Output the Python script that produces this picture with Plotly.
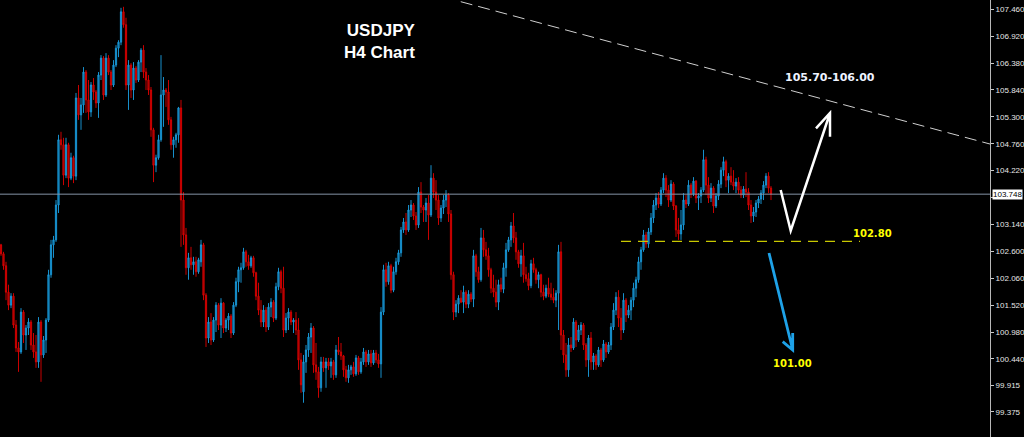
import plotly.graph_objects as go

# ---------------- data (USDJPY H4 candles) ----------------
opens = [
    102.73, 102.55, 102.31, 101.78, 101.52, 101.70, 101.12, 100.66, 100.58, 101.38,
    100.92, 101.06, 101.18, 100.72, 100.58, 100.38, 101.18, 100.52, 100.82, 101.22,
    102.13, 102.73, 102.83, 103.53, 104.84, 104.74, 104.13, 104.74, 104.07, 104.48,
    104.11, 105.68, 105.34, 105.54, 106.20, 105.64, 105.40, 105.94, 105.80, 105.58,
    106.14, 106.48, 105.74, 106.48, 106.20, 105.94, 106.34, 106.68, 106.80, 107.41,
    107.15, 105.94, 106.34, 105.84, 106.28, 106.04, 106.40, 106.64, 106.20, 106.04,
    105.84, 105.04, 104.33, 104.48, 104.84, 105.74, 105.84, 105.80, 105.24, 104.74,
    104.84, 104.94, 105.48, 103.63, 102.93, 102.27, 102.47, 102.33, 102.39, 102.19,
    102.39, 102.73, 101.72, 100.86, 101.18, 100.82, 101.22, 101.52, 101.12, 101.56,
    101.06, 101.22, 101.30, 100.96, 101.52, 101.99, 102.23, 102.27, 102.59, 102.39,
    102.31, 102.47, 102.17, 101.70, 101.42, 101.18, 101.42, 101.08, 101.48, 101.58,
    101.26, 101.89, 102.19, 101.86, 101.02, 101.26, 101.38, 101.18, 101.22, 101.02,
    100.42, 99.78, 100.38, 100.62, 100.88, 101.06, 100.32, 100.18, 99.86, 100.38,
    100.26, 100.38, 100.30, 100.38, 100.12, 100.62, 100.58, 100.50, 100.22, 100.06,
    100.22, 100.28, 100.14, 100.46, 100.18, 100.38, 100.58, 100.38, 100.54, 100.36,
    100.56, 100.42, 100.34, 101.38, 102.23, 101.99, 102.31, 101.82, 102.19, 102.39,
    102.57, 103.03, 103.19, 103.03, 103.43, 103.53, 103.31, 103.13, 103.79, 103.49,
    103.43, 103.57, 103.33, 104.07, 103.79, 103.63, 103.27, 103.47, 103.63, 103.73,
    103.35, 102.13, 101.38, 101.54, 101.66, 101.58, 101.78, 101.54, 101.74, 101.64,
    102.51, 102.19, 102.03, 102.87, 102.63, 102.51, 102.23, 101.86, 101.78, 101.58,
    101.93, 101.84, 102.27, 102.63, 102.83, 103.11, 102.87, 102.59, 102.35, 102.51,
    102.13, 102.05, 101.91, 102.35, 102.23, 102.03, 102.13, 101.78, 101.70, 101.86,
    101.74, 101.68, 101.62, 101.76, 102.59, 100.92, 100.52, 100.22, 100.72, 100.66,
    101.18, 100.82, 101.02, 101.12, 100.72, 100.42, 100.86, 100.38, 100.50, 100.32,
    100.62, 100.42, 100.74, 100.58, 100.72, 101.08, 101.42, 101.68, 101.26, 101.02,
    101.62, 101.32, 101.42, 101.62, 101.86, 102.03, 102.39, 102.63, 102.93, 102.75,
    102.99, 103.27, 103.53, 103.67, 103.55, 103.83, 104.07, 103.83, 103.63, 103.95,
    103.51, 103.03, 102.95, 103.13, 103.63, 103.55, 103.93, 103.75, 104.01, 103.67,
    103.71, 103.83, 104.44, 103.93, 103.67, 103.87, 103.51, 103.71, 103.95, 104.23,
    104.40, 104.03, 104.11, 103.99, 103.91, 103.99, 103.83, 103.73, 103.85, 103.79,
    103.53, 103.31, 103.39, 103.57, 103.65, 103.77, 103.93, 104.11, 103.87,
]

highs = [
    102.75, 102.59, 102.39, 101.93, 101.76, 101.76, 101.22, 100.78, 101.46, 101.42,
    101.12, 101.26, 101.22, 100.96, 100.92, 101.28, 101.22, 100.90, 101.26, 102.23,
    102.83, 102.91, 103.63, 104.94, 105.00, 104.88, 104.88, 104.78, 104.58, 104.52,
    105.78, 105.94, 105.68, 106.30, 106.24, 106.04, 106.00, 106.08, 105.84, 106.20,
    106.54, 106.52, 106.58, 106.54, 106.24, 106.44, 106.74, 106.84, 107.49, 107.51,
    107.29, 106.44, 106.38, 106.40, 106.32, 106.44, 106.68, 106.74, 106.28, 106.14,
    105.90, 105.08, 104.54, 104.94, 106.54, 106.10, 105.88, 106.04, 105.30, 104.90,
    104.98, 105.50, 105.64, 103.79, 103.07, 102.57, 102.69, 102.49, 102.49, 102.47,
    102.83, 102.77, 101.76, 101.28, 101.36, 101.28, 101.58, 101.56, 101.66, 101.58,
    101.26, 101.36, 101.34, 101.58, 102.07, 102.29, 102.37, 102.67, 102.63, 102.53,
    102.51, 102.51, 102.19, 101.97, 101.62, 101.52, 101.48, 101.56, 101.66, 101.62,
    101.97, 102.27, 102.23, 102.29, 101.36, 101.46, 101.42, 101.26, 101.38, 101.26,
    100.56, 100.52, 100.72, 100.96, 101.16, 101.10, 100.76, 100.28, 100.48, 100.48,
    100.46, 100.46, 100.46, 100.42, 100.72, 100.88, 100.76, 100.52, 100.30, 100.32,
    100.32, 100.38, 100.52, 100.50, 100.46, 100.66, 100.62, 100.62, 100.62, 100.62,
    100.62, 100.54, 101.48, 102.33, 102.37, 102.39, 102.35, 102.29, 102.47, 102.63,
    103.09, 103.27, 103.37, 103.53, 103.63, 103.57, 103.39, 103.89, 103.99, 103.53,
    103.67, 103.73, 104.33, 104.17, 104.03, 103.73, 103.53, 103.73, 103.83, 103.77,
    103.43, 102.19, 101.62, 101.72, 101.82, 101.91, 101.82, 101.82, 101.78, 102.63,
    102.55, 102.29, 103.07, 103.03, 102.79, 102.67, 102.27, 102.13, 102.03, 102.03,
    102.07, 102.37, 102.77, 102.89, 103.19, 103.37, 102.99, 102.63, 102.63, 102.77,
    102.29, 102.17, 102.43, 102.47, 102.27, 102.19, 102.15, 101.93, 101.93, 102.07,
    101.97, 101.86, 101.82, 102.73, 102.79, 101.02, 100.76, 100.86, 100.88, 101.26,
    101.22, 101.12, 101.18, 101.16, 100.76, 100.92, 100.98, 100.56, 100.54, 100.68,
    100.66, 100.82, 100.78, 100.78, 101.16, 101.56, 101.78, 101.82, 101.46, 101.76,
    101.66, 101.52, 101.68, 101.97, 102.09, 102.49, 102.69, 103.03, 102.99, 103.07,
    103.37, 103.63, 103.77, 103.79, 103.89, 104.17, 104.13, 103.93, 104.03, 103.99,
    103.53, 103.27, 103.43, 103.77, 103.73, 104.03, 103.97, 104.09, 104.03, 103.77,
    103.89, 104.64, 104.50, 104.09, 103.97, 103.91, 103.77, 104.03, 104.29, 104.50,
    104.44, 104.17, 104.29, 104.23, 104.07, 104.09, 103.91, 103.91, 104.19, 103.87,
    103.63, 103.49, 103.63, 103.71, 103.83, 104.01, 104.17, 104.19, 103.91,
]

lows = [
    102.51, 102.23, 101.62, 101.42, 101.46, 101.06, 100.58, 100.18, 100.54, 100.76,
    100.62, 100.92, 100.62, 100.46, 100.26, 100.26, 99.98, 100.46, 100.56, 101.18,
    102.07, 102.47, 102.79, 103.37, 104.64, 103.93, 104.07, 103.89, 104.03, 103.97,
    104.03, 105.24, 105.04, 105.38, 105.38, 105.24, 105.30, 105.64, 105.48, 105.28,
    106.04, 105.64, 105.70, 106.14, 105.84, 105.90, 106.30, 106.50, 106.74, 107.09,
    105.84, 105.44, 105.68, 105.64, 105.98, 106.00, 106.20, 106.08, 105.84, 105.74,
    104.90, 103.99, 104.19, 104.44, 104.80, 105.10, 105.50, 105.14, 104.64, 104.48,
    104.68, 104.78, 102.69, 102.73, 102.13, 102.03, 102.23, 102.13, 102.09, 102.15,
    102.29, 101.62, 100.68, 100.76, 100.72, 100.78, 100.98, 101.02, 100.86, 100.96,
    100.98, 101.02, 100.86, 100.92, 101.48, 101.78, 101.97, 102.23, 102.29, 102.23,
    102.27, 102.09, 101.62, 101.32, 101.08, 101.08, 100.98, 101.02, 101.28, 101.18,
    101.22, 101.82, 101.76, 100.88, 100.96, 101.02, 101.12, 100.96, 100.92, 100.22,
    99.76, 99.56, 100.16, 100.48, 100.56, 100.16, 100.02, 99.66, 99.78, 100.18,
    99.86, 100.22, 100.06, 100.02, 100.06, 100.52, 100.42, 100.08, 99.98, 99.96,
    100.12, 100.08, 100.10, 100.12, 100.14, 100.32, 100.28, 100.32, 100.28, 100.32,
    100.36, 100.26, 100.06, 101.32, 101.89, 101.93, 101.76, 101.78, 102.13, 102.33,
    102.49, 102.97, 102.93, 102.99, 103.29, 103.23, 103.03, 103.07, 103.37, 103.19,
    103.19, 102.83, 103.29, 103.67, 103.43, 103.13, 103.19, 103.35, 103.49, 103.19,
    102.03, 101.22, 101.28, 101.36, 101.56, 101.36, 101.46, 101.46, 101.58, 101.48,
    102.09, 101.97, 101.99, 102.49, 102.43, 102.09, 101.76, 101.68, 101.48, 101.42,
    101.78, 101.76, 102.09, 102.59, 102.69, 102.77, 102.43, 102.27, 102.09, 101.97,
    101.99, 101.82, 101.86, 102.17, 101.95, 101.86, 101.68, 101.62, 101.66, 101.68,
    101.62, 101.56, 101.48, 101.02, 100.62, 100.36, 100.08, 100.08, 100.58, 100.62,
    100.68, 100.78, 100.92, 100.62, 100.28, 100.08, 100.22, 100.22, 100.22, 100.28,
    100.28, 100.38, 100.46, 100.54, 100.62, 101.02, 101.32, 101.08, 100.82, 100.96,
    101.18, 101.26, 101.22, 101.48, 101.68, 101.97, 102.23, 102.59, 102.67, 102.67,
    102.93, 103.17, 103.43, 103.47, 103.51, 103.77, 103.69, 103.49, 103.59, 103.43,
    102.89, 102.83, 102.83, 103.03, 103.47, 103.51, 103.67, 103.71, 103.57, 103.43,
    103.57, 103.79, 103.73, 103.57, 103.59, 103.37, 103.47, 103.63, 103.87, 104.11,
    103.89, 103.77, 103.93, 103.83, 103.77, 103.75, 103.67, 103.67, 103.69, 103.43,
    103.17, 103.19, 103.29, 103.47, 103.55, 103.63, 103.87, 103.77, 103.63,
]

closes = [
    102.55, 102.31, 101.78, 101.52, 101.70, 101.12, 100.66, 100.58, 101.38, 100.92,
    101.06, 101.18, 100.72, 100.58, 100.38, 101.18, 100.52, 100.82, 101.22, 102.13,
    102.73, 102.83, 103.53, 104.84, 104.74, 104.13, 104.74, 104.07, 104.48, 104.11,
    105.68, 105.34, 105.54, 106.20, 105.64, 105.40, 105.94, 105.80, 105.58, 106.14,
    106.48, 105.74, 106.48, 106.20, 105.94, 106.34, 106.68, 106.80, 107.41, 107.15,
    105.94, 106.34, 105.84, 106.28, 106.04, 106.40, 106.64, 106.20, 106.04, 105.84,
    105.04, 104.33, 104.48, 104.84, 105.74, 105.84, 105.80, 105.24, 104.74, 104.84,
    104.94, 105.48, 103.63, 102.93, 102.27, 102.47, 102.33, 102.39, 102.19, 102.43,
    102.73, 101.72, 100.86, 101.18, 100.82, 101.22, 101.52, 101.12, 101.56, 101.06,
    101.22, 101.30, 100.96, 101.52, 101.99, 102.23, 102.27, 102.59, 102.39, 102.31,
    102.47, 102.17, 101.70, 101.42, 101.18, 101.42, 101.08, 101.48, 101.58, 101.26,
    101.89, 102.19, 101.86, 101.02, 101.26, 101.38, 101.18, 101.22, 101.02, 100.42,
    99.92, 100.38, 100.62, 100.88, 101.06, 100.32, 100.18, 99.86, 100.38, 100.26,
    100.38, 100.30, 100.38, 100.12, 100.62, 100.58, 100.50, 100.22, 100.06, 100.22,
    100.28, 100.14, 100.46, 100.18, 100.38, 100.58, 100.38, 100.54, 100.36, 100.56,
    100.42, 100.34, 101.38, 102.23, 101.99, 102.31, 101.82, 102.19, 102.39, 102.57,
    103.03, 103.19, 103.03, 103.43, 103.53, 103.31, 103.13, 103.79, 103.49, 103.43,
    103.57, 103.33, 104.07, 103.79, 103.63, 103.27, 103.47, 103.63, 103.73, 103.35,
    102.13, 101.38, 101.54, 101.66, 101.58, 101.78, 101.54, 101.74, 101.64, 102.51,
    102.19, 102.03, 102.87, 102.63, 102.51, 102.23, 101.86, 101.78, 101.58, 101.93,
    101.84, 102.27, 102.63, 102.83, 103.11, 102.87, 102.59, 102.35, 102.51, 102.13,
    102.05, 101.91, 102.35, 102.23, 102.03, 102.13, 101.78, 101.70, 101.86, 101.74,
    101.68, 101.62, 101.76, 102.59, 100.92, 100.52, 100.22, 100.72, 100.66, 101.18,
    100.82, 101.02, 101.12, 100.72, 100.42, 100.86, 100.38, 100.50, 100.32, 100.62,
    100.42, 100.74, 100.58, 100.72, 101.08, 101.42, 101.68, 101.26, 101.02, 101.62,
    101.32, 101.42, 101.62, 101.86, 102.03, 102.39, 102.63, 102.93, 102.75, 102.99,
    103.27, 103.53, 103.67, 103.55, 103.83, 104.07, 103.83, 103.63, 103.95, 103.51,
    103.03, 102.95, 103.13, 103.63, 103.55, 103.93, 103.75, 104.01, 103.67, 103.71,
    103.83, 104.44, 103.93, 103.67, 103.87, 103.51, 103.71, 103.95, 104.23, 104.40,
    104.03, 104.11, 103.99, 103.91, 103.99, 103.83, 103.73, 103.85, 103.79, 103.53,
    103.31, 103.39, 103.57, 103.65, 103.77, 103.93, 104.11, 103.87, 103.748,
]

bars = list(range(len(closes)))

# the 103.680 tick sits under the last-price box, so its label is left blank
price_ticks = [107.460, 106.920, 106.380, 105.840, 105.300, 104.760, 104.220, 103.680,
               103.140, 102.600, 102.060, 101.520, 100.980, 100.440, 99.915, 99.375]
price_tick_labels = ["107.460", "106.920", "106.380", "105.840", "105.300", "104.760",
                     "104.220", "", "103.140", "102.600", "102.060", "101.520",
                     "100.980", "100.440", "99.915", "99.375"]

last_price = 103.748
last_price_label = "103.748"

support_level = 102.80
support_label = "102.80"
target_down_label = "101.00"
target_up_label = "105.70-106.00"
title_lines = ["USDJPY", "H4 Chart"]

# drawing geometry (bar index, price)
trend_start = (183.9, 107.613)
trend_end = (395.6, 104.755)
support_span = (248.0, 343.6)
up_path = [(311.88, 103.832), (315.88, 103.015), (331.6, 105.378)]
up_head = [(326.0, 105.071), (331.6, 105.378), (331.6, 104.902)]
down_path = [(307.2, 102.567), (316.68, 100.619)]
down_head = [(312.68, 100.786), (316.68, 100.619), (316.68, 100.960)]

x_range = [-0.4, 395.6]
y_range = [98.872, 107.647]


def path_str(points):
    return "M " + " L ".join(f"{x},{y}" for x, y in points)


fig = go.Figure()
fig.add_trace(go.Candlestick(
    x=bars, open=opens, high=highs, low=lows, close=closes,
    increasing=dict(line=dict(color="#1a9fe2", width=0.9), fillcolor="#0c6390"),
    decreasing=dict(line=dict(color="#e00000", width=0.9), fillcolor="#900000"),
    whiskerwidth=0, showlegend=False, hoverinfo="skip",
))

shapes = [
    dict(type="line", xref="paper", yref="y", x0=0, x1=1, y0=last_price, y1=last_price,
         line=dict(color="#8494a6", width=1)),
    dict(type="line", xref="x", yref="y", x0=trend_start[0], y0=trend_start[1],
         x1=trend_end[0], y1=trend_end[1],
         line=dict(color="#d0d0d0", width=1, dash="12px,6px")),
    dict(type="line", xref="x", yref="y", x0=support_span[0], x1=support_span[1],
         y0=support_level, y1=support_level,
         line=dict(color="#c8c800", width=1.2, dash="10px,7px")),
    dict(type="path", xref="x", yref="y", path=path_str(up_path) + " " + path_str(up_head),
         line=dict(color="#ffffff", width=2.5)),
    dict(type="path", xref="x", yref="y", path=path_str(down_path) + " " + path_str(down_head),
         line=dict(color="#1ea2e8", width=2.8)),
]

annotations = [
    dict(text="<b>" + "<br>".join(title_lines) + "</b>", xref="x", yref="y",
         x=166.8, y=106.82, xanchor="right", yanchor="middle", align="right",
         showarrow=False, font=dict(family="Liberation Sans", size=17, color="#ffffff")),
    dict(text="<b>" + target_up_label + "</b>", xref="x", yref="y", x=331.6, y=106.10,
         showarrow=False, font=dict(family="DejaVu Sans", size=11, color="#eef3ff")),
    dict(text="<b>" + support_label + "</b>", xref="x", yref="y", x=348.4, y=102.968,
         showarrow=False, font=dict(family="DejaVu Sans", size=10, color="#ffff00")),
    dict(text="<b>" + target_down_label + "</b>", xref="x", yref="y", x=316.4, y=100.338,
         showarrow=False, font=dict(family="DejaVu Sans", size=10, color="#ffff00")),
    dict(text=last_price_label, xref="paper", yref="y", x=1, y=last_price,
         xanchor="left", yanchor="middle", xshift=2, showarrow=False,
         bgcolor="#ffffff", borderpad=0,
         font=dict(family="Liberation Sans", size=8, color="#000000")),
]

fig.update_layout(
    width=1024, height=437,
    margin=dict(l=0, r=34, t=0, b=0, autoexpand=False),
    paper_bgcolor="#000000", plot_bgcolor="#000000",
    showlegend=False,
    shapes=shapes, annotations=annotations,
    xaxis=dict(range=x_range, visible=False, rangeslider=dict(visible=False),
               showgrid=False, zeroline=False),
    yaxis=dict(range=y_range, side="right", tickvals=price_ticks, ticktext=price_tick_labels,
               ticks="outside", ticklen=3, tickcolor="#c8c8c8",
               showline=True, linecolor="#b8b8b8", linewidth=1,
               showgrid=False, zeroline=False, automargin=False,
               tickfont=dict(family="Liberation Sans", size=8, color="#e6e6e6")),
)

page_css = ("document.documentElement.style.margin='0';"
            "document.body.style.margin='0';"
            "document.body.style.padding='0';"
            "document.body.style.background='#000000';"
            "document.body.style.overflow='hidden';")

fig.write_html("out.html", post_script=page_css,
               config={"displayModeBar": False, "staticPlot": True})
